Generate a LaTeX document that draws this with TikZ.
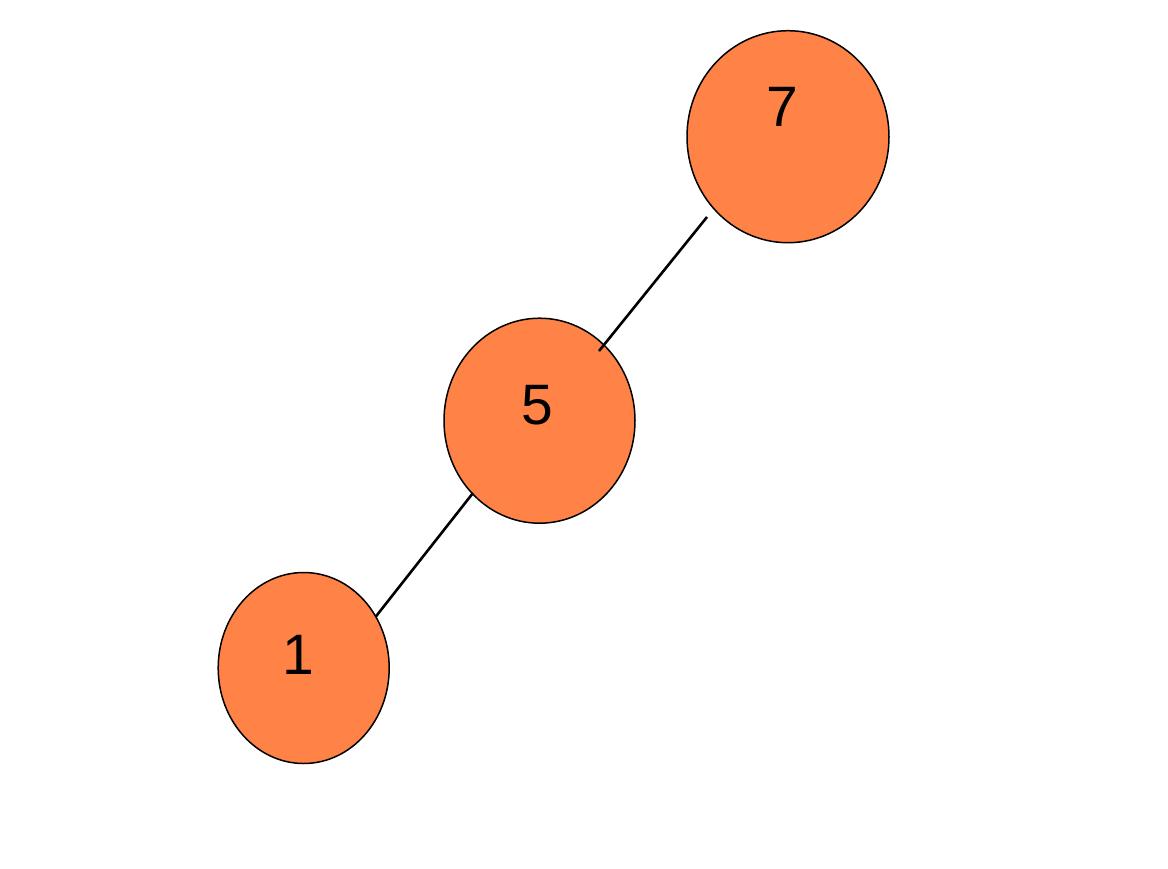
\documentclass[tikz,border=0pt]{standalone}
\usepackage{fontspec}
\setmainfont{Liberation Sans}
\usetikzlibrary{shapes.geometric,calc}
\definecolor{nodefill}{RGB}{255,130,71}
\tikzset{
  treenode/.style={ellipse, draw=black, line width=1.5pt, fill=nodefill, inner sep=0pt},
  digit/.style={anchor=base, inner sep=0pt, font=\fontsize{57}{60}\selectfont},
  edge/.style={draw=black, line width=2.6pt}
}
\begin{document}
\begin{tikzpicture}[x=1pt, y=-1pt]
  \useasboundingbox (0,0) rectangle (1168,868);
  % tree nodes
  \node[treenode, minimum width=202pt, minimum height=212pt] (n7) at (788,136.7) {};
  \node[treenode, minimum width=191pt, minimum height=205pt] (n5) at (539.5,420.7) {};
  \node[treenode, minimum width=171pt, minimum height=191pt] (n1) at (303.7,668) {};
  % edges
  \draw[edge] ($(n7.center)+(-81,80.3)$) -- ($(n5.center)+(59.5,-69.7)$);
  \draw[edge] ($(n5.center)+(-66.5,72.3)$) -- ($(n1.center)+(72,-51.3)$);
  % keys
  \node[digit] (t7) at (782,126) {7};
  \node[digit] (t5) at (537.5,424) {5};
  \node[digit] (t1) at (298,674) {1};
\end{tikzpicture}
\end{document}
